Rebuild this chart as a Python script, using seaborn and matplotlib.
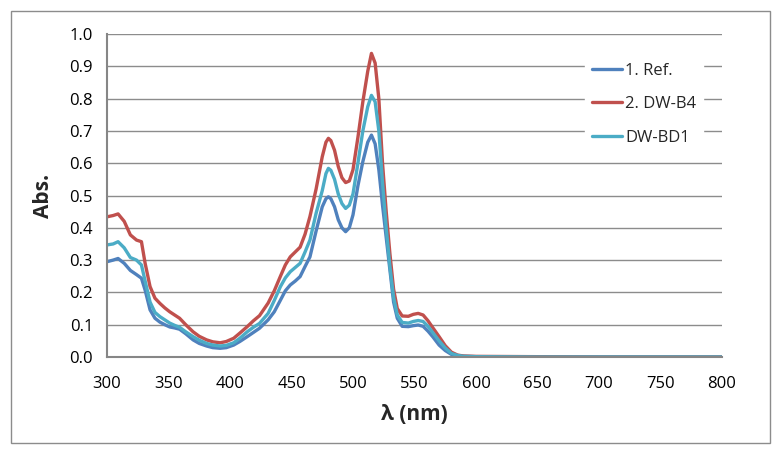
import numpy as np
import pandas as pd
import matplotlib
matplotlib.use("Agg")
import matplotlib.pyplot as plt
import seaborn as sns
from matplotlib.patches import Rectangle

wavelength = [300, 305, 309, 314, 319, 324, 328, 331, 335, 339, 343, 347, 351, 355, 359, 364,
              370, 375, 381, 386, 392, 397, 403, 408, 414, 419, 424, 431, 436, 441, 445, 449,
              453, 457, 461, 465, 470, 475, 478, 480, 482, 485, 488, 491, 494, 497, 500, 504,
              508, 512, 515, 518, 521, 524, 527, 530, 533, 536, 540, 545, 549, 553, 557, 561,
              565, 570, 575, 580, 585, 590, 600, 650, 700, 750, 800]

ref = [0.295, 0.300, 0.305, 0.290, 0.268, 0.255, 0.244, 0.207, 0.146, 0.120, 0.108, 0.100, 0.093, 0.090,
       0.086, 0.072, 0.053, 0.042, 0.034, 0.029, 0.027, 0.029, 0.037, 0.048, 0.063, 0.076, 0.089, 0.115,
       0.140, 0.176, 0.205, 0.223, 0.235, 0.249, 0.280, 0.310, 0.390, 0.465, 0.490, 0.496, 0.490, 0.465,
       0.425, 0.400, 0.388, 0.400, 0.440, 0.530, 0.605, 0.665, 0.687, 0.660, 0.580, 0.470, 0.370, 0.270,
       0.170, 0.120, 0.095, 0.094, 0.097, 0.099, 0.095, 0.080, 0.062, 0.037, 0.020, 0.008, 0.003, 0.002,
       0.001, 0.0, 0.0, 0.0, 0.0]

dw_b4 = [0.434, 0.438, 0.443, 0.420, 0.378, 0.362, 0.357, 0.290, 0.218, 0.182, 0.166, 0.152, 0.140, 0.130,
         0.120, 0.100, 0.078, 0.064, 0.053, 0.047, 0.044, 0.048, 0.058, 0.074, 0.094, 0.112, 0.128, 0.167,
         0.205, 0.250, 0.285, 0.310, 0.325, 0.340, 0.380, 0.435, 0.520, 0.620, 0.665, 0.677, 0.670, 0.640,
         0.590, 0.555, 0.540, 0.545, 0.580, 0.680, 0.790, 0.885, 0.940, 0.910, 0.800, 0.600, 0.450, 0.320,
         0.210, 0.150, 0.127, 0.126, 0.132, 0.135, 0.130, 0.112, 0.090, 0.063, 0.035, 0.015, 0.006, 0.003,
         0.002, 0.001, 0.0, 0.0, 0.0]

dw_bd1 = [0.347, 0.350, 0.357, 0.338, 0.308, 0.300, 0.285, 0.235, 0.170, 0.138, 0.125, 0.115, 0.105, 0.098,
          0.092, 0.078, 0.063, 0.052, 0.042, 0.037, 0.034, 0.036, 0.044, 0.058, 0.078, 0.092, 0.104, 0.135,
          0.175, 0.218, 0.245, 0.264, 0.277, 0.290, 0.325, 0.362, 0.445, 0.515, 0.568, 0.584, 0.578, 0.550,
          0.505, 0.475, 0.460, 0.470, 0.505, 0.600, 0.700, 0.775, 0.810, 0.790, 0.700, 0.540, 0.400, 0.280,
          0.185, 0.130, 0.107, 0.105, 0.110, 0.113, 0.110, 0.095, 0.075, 0.050, 0.028, 0.011, 0.005, 0.002,
          0.001, 0.0, 0.0, 0.0, 0.0]

series_names = ["1. Ref.", "2. DW-B4", "DW-BD1"]
colors = ["#4F81BD", "#C0504D", "#4BACC6"]
x_ticks = [300, 350, 400, 450, 500, 550, 600, 650, 700, 750, 800]
y_ticks = [0.0, 0.1, 0.2, 0.3, 0.4, 0.5, 0.6, 0.7, 0.8, 0.9, 1.0]

frames = []
for name, vals in zip(series_names, [ref, dw_b4, dw_bd1]):
    frames.append(pd.DataFrame({"wl": wavelength, "abs": vals, "series": name}))
df = pd.concat(frames, ignore_index=True)

sns.set_style("white")
plt.rcParams['font.family'] = ['Open Sans', 'DejaVu Sans']

fig = plt.figure(figsize=(7.73, 4.51), dpi=100)
ax = fig.add_axes([107/773, 1 - 357/451, (722-107)/773, (357-34)/451])

sns.lineplot(data=df, x="wl", y="abs", hue="series", hue_order=series_names,
             palette=colors, linewidth=2.4, ax=ax, sort=False)

ax.set_xlim(300, 800)
ax.set_ylim(0, 1.0)
ax.set_xticks(x_ticks)
ax.set_xticklabels([str(t) for t in x_ticks])
ax.set_yticks(y_ticks)
ax.set_yticklabels([f"{t:.1f}" for t in y_ticks])
ax.tick_params(axis='both', labelsize=12, length=0, colors="black")
ax.tick_params(axis='x', pad=14)
ax.tick_params(axis='y', pad=10)
ax.yaxis.grid(True, color="#8C8C8C", linewidth=1.0)
ax.xaxis.grid(False)
ax.set_axisbelow(True)
for s in ["top", "right"]:
    ax.spines[s].set_visible(False)
for s in ["left", "bottom"]:
    ax.spines[s].set_color("#868686")
    ax.spines[s].set_linewidth(1.5)

ax.set_xlabel("λ (nm)", fontsize=15, fontweight="bold", labelpad=8)
ax.set_ylabel("Abs.", fontsize=15, fontweight="bold", labelpad=11)

leg = ax.legend(loc="upper left", bbox_to_anchor=((585-107)/615, 1 - (56-34)/323),
                frameon=True, fontsize=12, handlelength=1.8, handletextpad=0.2,
                labelspacing=1.05, borderpad=0.4, borderaxespad=0)
leg.get_frame().set_facecolor("white")
leg.get_frame().set_edgecolor("white")
leg.get_frame().set_alpha(1.0)
for line in leg.get_lines():
    line.set_linewidth(2.4)

fig.patches.append(Rectangle((11/773, 1 - 443/451), (770-11)/773, (443-11)/451,
                             transform=fig.transFigure, fill=False,
                             edgecolor="#8C8C8C", linewidth=1.0))

fig.savefig("out.png", dpi=100)
